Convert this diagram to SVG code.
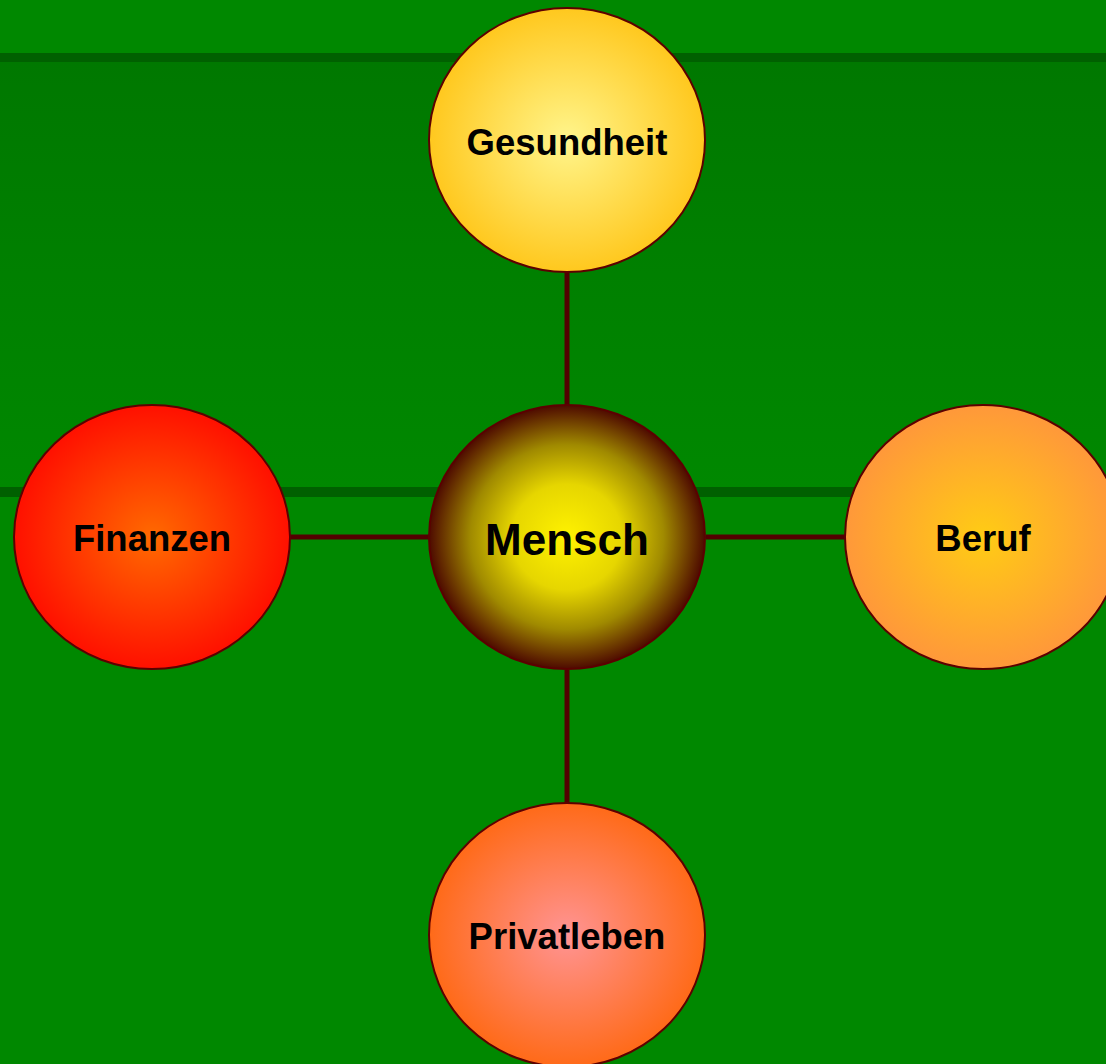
<svg xmlns="http://www.w3.org/2000/svg" width="1106" height="1064" viewBox="0 0 1106 1064">
<defs>
<linearGradient id="bgMid" x1="0" y1="0" x2="0" y2="1">
<stop offset="0" stop-color="#007800"/>
<stop offset="1" stop-color="#008800"/>
</linearGradient>
<radialGradient id="gGes" cx="0.5" cy="0.5" r="0.5">
<stop offset="0" stop-color="#FFF58C"/>
<stop offset="1" stop-color="#FFC81E"/>
</radialGradient>
<radialGradient id="gMen" cx="0.5" cy="0.5" r="0.5">
<stop offset="0" stop-color="#FFF200"/>
<stop offset="0.4" stop-color="#E6D600"/>
<stop offset="0.7" stop-color="#A08A00"/>
<stop offset="1" stop-color="#4E0A00"/>
</radialGradient>
<radialGradient id="gBer" cx="0.5" cy="0.5" r="0.5">
<stop offset="0" stop-color="#FFCC14"/>
<stop offset="1" stop-color="#FF983A"/>
</radialGradient>
<radialGradient id="gFin" cx="0.5" cy="0.5" r="0.5">
<stop offset="0" stop-color="#FF6A00"/>
<stop offset="1" stop-color="#FF1000"/>
</radialGradient>
<radialGradient id="gPri" cx="0.5" cy="0.5" r="0.5">
<stop offset="0" stop-color="#FF9494"/>
<stop offset="1" stop-color="#FF6A18"/>
</radialGradient>
</defs>
<style>
.node{stroke:#5C0000;stroke-width:2}
.lbl{font-family:"Liberation Sans",Arial,sans-serif;font-weight:bold;font-size:36.5px;fill:#000;text-anchor:middle}
.big{font-size:44px}
.conn{stroke:#520000;stroke-width:5;fill:none}
</style>
<g id="background">
<rect x="0" y="0" width="1106" height="1064" fill="#008800"/>
<rect x="0" y="62" width="1106" height="426" fill="url(#bgMid)"/>
<rect x="0" y="53" width="1106" height="9" fill="#006000"/>
<rect x="0" y="487" width="1106" height="10" fill="#006000"/>
</g>
<g id="connectors">
<line class="conn" x1="567" y1="272" x2="567" y2="405"/>
<line class="conn" x1="290" y1="537" x2="429" y2="537"/>
<line class="conn" x1="706" y1="537" x2="845" y2="537"/>
<line class="conn" x1="567" y1="670" x2="567" y2="803"/>
</g>
<g id="gesundheit">
<ellipse class="node" cx="567" cy="140" rx="138" ry="132" fill="url(#gGes)"/>
<text class="lbl" x="567" y="155">Gesundheit</text>
</g>
<g id="mensch">
<ellipse class="node" cx="567" cy="537" rx="138" ry="132" fill="url(#gMen)"/>
<text class="lbl big" x="567" y="555">Mensch</text>
</g>
<g id="finanzen">
<ellipse class="node" cx="152" cy="537" rx="138" ry="132" fill="url(#gFin)"/>
<text class="lbl" x="152" y="551">Finanzen</text>
</g>
<g id="beruf">
<ellipse class="node" cx="983" cy="537" rx="138" ry="132" fill="url(#gBer)"/>
<text class="lbl" x="983" y="551">Beruf</text>
</g>
<g id="privatleben">
<ellipse class="node" cx="567" cy="935" rx="138" ry="132" fill="url(#gPri)"/>
<text class="lbl" x="567" y="949">Privatleben</text>
</g>
</svg>
